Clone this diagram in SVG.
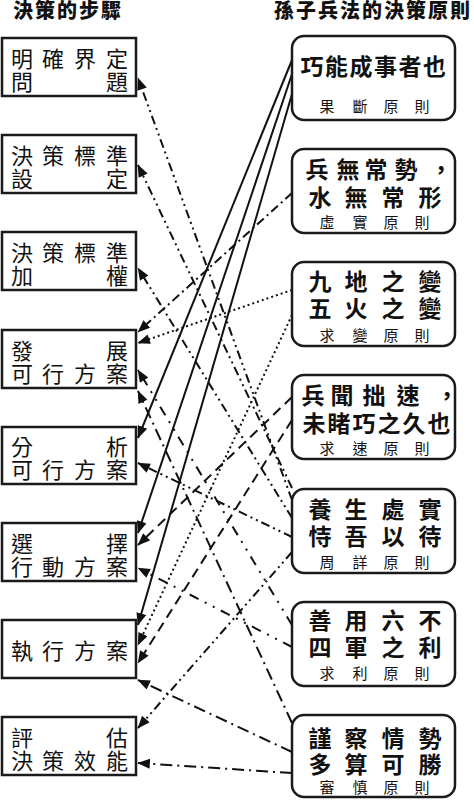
<svg xmlns="http://www.w3.org/2000/svg" width="474" height="800" viewBox="0 0 474 800">
<style>
.bg{fill:#fff}
.lb{fill:#fff;stroke:#1a1a1a;stroke-width:2.5}
.rb{fill:#fff;stroke:#1a1a1a;stroke-width:2.5}
.hd{font-family:'Liberation Sans','Noto Sans CJK TC',sans-serif;font-size:20px;font-weight:900;fill:#111;letter-spacing:2px}
.lt{font-family:'Liberation Sans','Noto Sans CJK TC',sans-serif;font-size:22px;fill:#111;text-anchor:middle}
.mt{font-family:'Liberation Sans','Noto Sans CJK TC',sans-serif;font-size:23px;font-weight:700;fill:#111;text-anchor:middle}
.st{font-family:'Liberation Sans','Noto Sans CJK TC',sans-serif;font-size:15px;fill:#111;text-anchor:middle}
.c{fill:none;stroke:#111;stroke-width:2;marker-end:url(#ah)}
.solid{}
.dd{stroke-dasharray:9 4 2 4}
.dot{stroke-dasharray:2 3}
.dash{stroke-dasharray:10 6}
.ddd{stroke-dasharray:9 4 2 4 2 4}
.sp{stroke-dasharray:10 7 2 7 2 7}
.ld{stroke-dasharray:12 5 2 5}
</style>
<defs>
<marker id="ah" viewBox="0 0 10 8" refX="9.5" refY="4" markerWidth="13" markerHeight="10" markerUnits="userSpaceOnUse" orient="auto">
<path d="M0,0 L10,4 L0,8 z" fill="#111"/>
</marker>
</defs>
<rect class="bg" x="0" y="0" width="474" height="800"/>

<g id="headers">
<text class="hd" x="13" y="18">決策的步驟</text>
<text class="hd" x="274" y="18">孫子兵法的決策原則</text>
</g>

<g id="connectors">
<line class="c solid" x1="292" y1="60" x2="138" y2="438"/>
<line class="c solid" x1="292" y1="74" x2="138" y2="533"/>
<line class="c solid" x1="292" y1="94" x2="138" y2="625"/>
<line class="c dd" x1="292" y1="193" x2="138" y2="332"/>
<line class="c dot" x1="292" y1="290" x2="138" y2="343"/>
<line class="c dot" x1="292" y1="315" x2="138" y2="645"/>
<line class="c dash" x1="292" y1="397" x2="138" y2="545"/>
<line class="c dash" x1="292" y1="420" x2="138" y2="663"/>
<line class="c ddd" x1="292" y1="500" x2="138" y2="78"/>
<line class="c ddd" x1="292" y1="488" x2="138" y2="165"/>
<line class="c ddd" x1="292" y1="518" x2="138" y2="268"/>
<line class="c ddd" x1="292" y1="537" x2="138" y2="463"/>
<line class="c ddd" x1="292" y1="552" x2="138" y2="728"/>
<line class="c sp" x1="292" y1="625" x2="138" y2="370"/>
<line class="c sp" x1="292" y1="647" x2="138" y2="568"/>
<line class="c ld" x1="292" y1="723" x2="138" y2="391"/>
<line class="c ld" x1="292" y1="752" x2="138" y2="680"/>
<line class="c ld" x1="292" y1="773" x2="138" y2="763"/>
</g>

<g id="L1">
<rect class="lb" x="2" y="38" width="134" height="58"/>
<text class="lt" x="22 53 85 117" y="67">明確界定</text>
<text class="lt" x="22 117" y="90">問題</text>
</g>
<g id="L2">
<rect class="lb" x="2" y="135" width="134" height="58"/>
<text class="lt" x="22 53 85 117" y="164">決策標準</text>
<text class="lt" x="22 117" y="187">設定</text>
</g>
<g id="L3">
<rect class="lb" x="2" y="232" width="134" height="58"/>
<text class="lt" x="22 53 85 117" y="261">決策標準</text>
<text class="lt" x="22 117" y="284">加權</text>
</g>
<g id="L4">
<rect class="lb" x="2" y="330" width="134" height="58"/>
<text class="lt" x="22 117" y="359">發展</text>
<text class="lt" x="22 53 85 117" y="382">可行方案</text>
</g>
<g id="L5">
<rect class="lb" x="2" y="427" width="134" height="57"/>
<text class="lt" x="22 117" y="455">分析</text>
<text class="lt" x="22 53 85 117" y="478">可行方案</text>
</g>
<g id="L6">
<rect class="lb" x="2" y="523" width="134" height="58"/>
<text class="lt" x="22 117" y="552">選擇</text>
<text class="lt" x="22 53 85 117" y="575">行動方案</text>
</g>
<g id="L7">
<rect class="lb" x="2" y="620" width="134" height="58"/>
<text class="lt" x="22 53 85 117" y="659">執行方案</text>
</g>
<g id="L8">
<rect class="lb" x="2" y="717" width="134" height="58"/>
<text class="lt" x="22 117" y="746">評估</text>
<text class="lt" x="22 53 85 117" y="769">決策效能</text>
</g>

<g id="R1">
<rect class="rb" x="292" y="36" width="163" height="84" rx="12"/>
<text class="mt" x="312 336.5 361 385.5 410 434.5" y="75">巧能成事者也</text>
<text class="st" x="327 360 391 422" y="112">果斷原則</text>
</g>
<g id="R2">
<rect class="rb" x="292" y="149" width="163" height="84" rx="12"/>
<text class="mt" x="317 348 376 406 441" y="178">兵無常勢，</text>
<text class="mt" x="320 356 393 430" y="206">水無常形</text>
<text class="st" x="327 360 391 422" y="228">虛實原則</text>
</g>
<g id="R3">
<rect class="rb" x="292" y="262" width="163" height="84" rx="12"/>
<text class="mt" x="320 356 393 430" y="290">九地之變</text>
<text class="mt" x="320 356 393 430" y="317">五火之變</text>
<text class="st" x="327 360 391 422" y="341">求變原則</text>
</g>
<g id="R4">
<rect class="rb" x="292" y="375" width="163" height="84" rx="12"/>
<text class="mt" x="313 342 374 408 447" y="404">兵聞拙速，</text>
<text class="mt" x="314 339 364 389 414 439" y="432">未睹巧之久也</text>
<text class="st" x="327 360 391 422" y="454">求速原則</text>
</g>
<g id="R5">
<rect class="rb" x="292" y="489" width="163" height="84" rx="12"/>
<text class="mt" x="320 356 393 430" y="518">養生處實</text>
<text class="mt" x="320 356 393 430" y="545">恃吾以待</text>
<text class="st" x="327 360 391 422" y="568">周詳原則</text>
</g>
<g id="R6">
<rect class="rb" x="292" y="602" width="163" height="84" rx="12"/>
<text class="mt" x="320 356 393 430" y="629">善用六不</text>
<text class="mt" x="320 356 393 430" y="656">四軍之利</text>
<text class="st" x="327 360 391 422" y="679">求利原則</text>
</g>
<g id="R7">
<rect class="rb" x="292" y="715" width="163" height="82" rx="12"/>
<text class="mt" x="320 356 393 430" y="747">謹察情勢</text>
<text class="mt" x="320 356 393 430" y="773">多算可勝</text>
<text class="st" x="327 360 391 422" y="793">審慎原則</text>
</g>
</svg>
